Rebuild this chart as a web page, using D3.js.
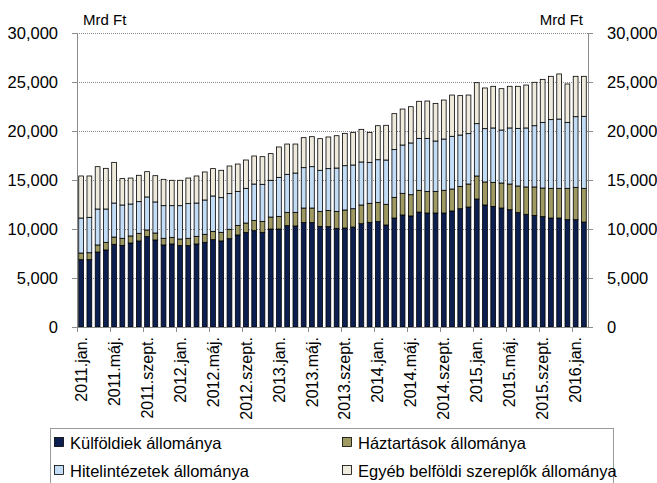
<!DOCTYPE html>
<html><head><meta charset="utf-8">
<script src="https://cdn.jsdelivr.net/npm/d3@7"></script>
<style>body{margin:0;background:#fff}svg{display:block}text{font-family:"Liberation Sans",Arial,sans-serif;fill:#000}</style>
</head><body><svg id="c" width="657" height="483"></svg>
<script>
const months = ["jan.","febr.","márc.","ápr.","máj.","jún.","júl.","aug.","szept.","okt.","nov.","dec."];
const categories = [];
for (let y = 2011; y <= 2016; y++) for (let m = 0; m < 12; m++) { if (y === 2016 && m > 1) break; categories.push(y + "." + months[m]); }
const tickLabels = ["2011.jan.","2011.máj.","2011.szept.","2012.jan.","2012.máj.","2012.szept.","2013.jan.","2013.máj.","2013.szept.","2014.jan.","2014.máj.","2014.szept.","2015.jan.","2015.máj.","2015.szept.","2016.jan."];
const yTicks = [0,5000,10000,15000,20000,25000,30000];

const kulfoldiek = [6870,6870,7650,7860,8440,8330,8570,8780,9220,8880,8370,8470,8300,8300,8470,8640,8910,8780,9010,9390,9630,9830,9660,10000,10000,10340,10310,10650,10650,10270,10240,10070,10100,10200,10540,10680,10750,10410,11120,11430,11330,11730,11630,11630,11630,11840,12070,12240,13060,12450,12310,12140,11970,11670,11500,11390,11260,11120,11120,10950,10950,10710];
const haztartasok = [680,710,720,780,740,720,720,780,680,710,680,680,680,750,780,820,850,880,960,980,980,1050,1120,1220,1290,1360,1390,1490,1490,1530,1660,1730,1840,1870,1910,1940,1970,2110,2110,2210,2170,2220,2210,2210,2320,2240,2280,2350,2350,2350,2450,2550,2620,2720,2790,2900,2920,3030,3030,3200,3300,3440];
const hitelintezetek = [3570,3610,3670,3400,3470,3400,3260,3230,3370,3170,3330,3230,3400,3540,3400,3500,3610,3540,3640,3470,3540,3710,3780,3750,3980,3880,4010,4120,4220,4190,4260,4420,4520,4460,4390,4180,4350,4520,4870,4930,5280,5300,5410,5140,5230,5380,5240,5140,5340,5440,5550,5410,5720,5880,6020,6250,6700,7010,7070,6730,7210,7350];
const egyeb = [4290,4220,4320,4150,4150,2690,2650,2690,2580,2680,2690,2590,2590,2610,2760,2860,2790,2790,2820,2790,2890,2860,2820,2720,3100,3090,2960,3060,3060,3230,3230,3300,3300,3330,3330,3060,3470,3540,3670,3670,3700,3780,3810,3840,3980,4210,4020,3940,4180,4150,4250,4220,4250,4290,4380,4430,4390,4420,4600,3920,4120,4080];

const seriesNames = ["Külföldiek állománya","Háztartások állománya","Hitelintézetek állománya","Egyéb belföldi szereplők állománya"];
const seriesKeys = ["k","h","b","e"];
const colors = ["#0c1f50","#9f9962","#c3ddf7","#eeebdd"];

const rows = categories.map((c,i)=>({cat:c,k:kulfoldiek[i],h:haztartasok[i],b:hitelintezetek[i],e:egyeb[i]}));
const stack = d3.stack().keys(seriesKeys)(rows);

const L = 77, R = 588, T = 33, B = 327;
const svg = d3.select("#c");
const x = d3.scaleBand().domain(categories).range([L,R]).paddingInner(0.42).paddingOuter(0.21);
const y = d3.scaleLinear().domain([0,30000]).range([B,T]);

// gridlines
svg.append("g").selectAll("line").data(yTicks.filter(v=>v>0)).join("line")
  .attr("x1",L).attr("x2",R).attr("y1",d=>y(d)+0.5).attr("y2",d=>y(d)+0.5)
  .attr("stroke","#8c8c8c").attr("stroke-width",1).attr("stroke-dasharray","1,1");

// bars
const g = svg.append("g");
stack.forEach((s,si)=>{
  g.append("g").selectAll("rect").data(s).join("rect")
    .attr("x",(d,i)=>x(categories[i]))
    .attr("width",x.bandwidth())
    .attr("y",d=>y(d[1]))
    .attr("height",d=>y(d[0])-y(d[1]))
    .attr("fill",colors[si]).attr("stroke","#000").attr("stroke-width",0.8);
});

// axes
const fmt = d3.format(",");
const yl = d3.axisLeft(y).tickValues(yTicks).tickSize(5).tickPadding(4).tickFormat(fmt);
const yr = d3.axisRight(y).tickValues(yTicks).tickSize(5).tickPadding(14).tickFormat(fmt);
const gl = svg.append("g").attr("transform",`translate(${L},0)`).call(yl);
const gr = svg.append("g").attr("transform",`translate(${R},0)`).call(yr);
[gl,gr].forEach(a=>{a.select(".domain").attr("stroke","#8c8c8c");a.selectAll(".tick line").attr("stroke","#8c8c8c");
  a.selectAll("text").style("font-size","16.5px").style("font-family","'Liberation Sans',Arial,sans-serif");});
gl.selectAll("text").attr("x",-19);

// bottom axis
const xa = svg.append("g");
xa.append("line").attr("x1",L).attr("x2",R).attr("y1",B+0.5).attr("y2",B+0.5).attr("stroke","#8c8c8c");
const tickIdx = categories.map((c,i)=>i).filter(i=>i%4===0);
xa.selectAll("line.t").data(tickIdx).join("line").attr("class","t")
  .attr("x1",i=>Math.round(x(categories[i]) - x.step()*x.paddingInner()/2)+0.5)
  .attr("x2",i=>Math.round(x(categories[i]) - x.step()*x.paddingInner()/2)+0.5)
  .attr("y1",B).attr("y2",B+5).attr("stroke","#8c8c8c");
xa.selectAll("text").data(tickLabels).join("text")
  .attr("transform",(d)=>`translate(${x(d)+x.bandwidth()/2},337) rotate(-90)`)
  .attr("text-anchor","end").attr("dy","0.35em").style("font-size","16px").text(d=>d);

// unit labels
svg.append("text").attr("x",83).attr("y",25).style("font-size","15px").text("Mrd Ft");
svg.append("text").attr("x",583).attr("y",25).attr("text-anchor","end").style("font-size","15px").text("Mrd Ft");

// legend
const lg = svg.append("g");
lg.append("rect").attr("x",50.5).attr("y",428.5).attr("width",563).attr("height",70).attr("fill","#fff").attr("stroke","#9a9a9a");
const pos = [[54,443],[342,443],[54,471],[342,471]];
seriesNames.forEach((n,i)=>{
  const [px,py] = pos[i];
  lg.append("rect").attr("x",px+0.5).attr("y",py-5.5).attr("width",9).attr("height",9).attr("fill",colors[i]).attr("stroke","#000").attr("stroke-width",0.8);
  lg.append("text").attr("x",px+16).attr("y",py).attr("dy","0.35em").style("font-size","16.5px").text(n);
});
</script></body></html>
